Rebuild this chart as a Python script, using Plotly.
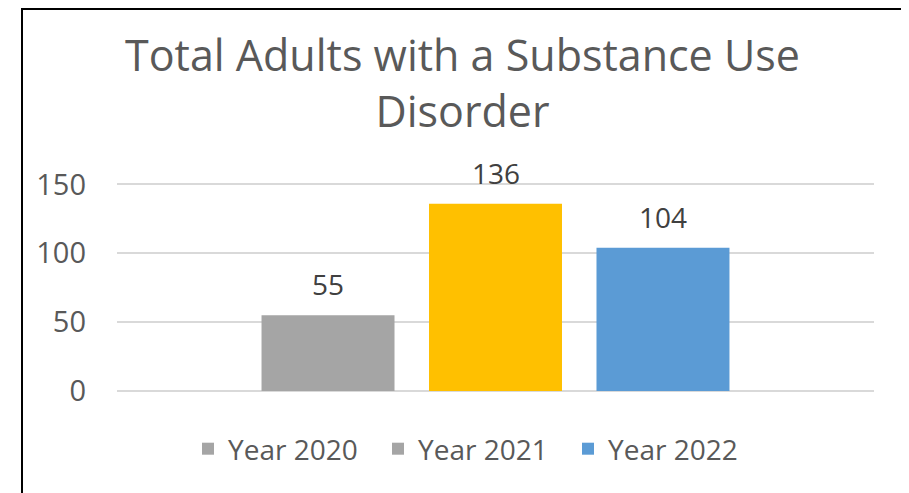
import plotly.graph_objects as go

# ---- data ----
series_names = ["Year 2020", "Year 2021", "Year 2022"]
values = [55, 136, 104]
bar_colors = ["#A5A5A5", "#FFC000", "#5B9BD5"]
legend_colors = ["#A5A5A5", "#A5A5A5", "#5B9BD5"]
y_ticks = [0, 50, 100, 150]
title_text = "Total Adults with a Substance Use<br>Disorder"

FONT = "Open Sans"
W, H = 901, 485
L, R, T, B = 109, 35, 175, 102
pw, ph = W - L - R, H - T - B

fig = go.Figure()
for i, (name, val) in enumerate(zip(series_names, values)):
    same = bar_colors[i] == legend_colors[i]
    fig.add_trace(go.Bar(
        x=[name], y=[val], name=name,
        marker=dict(color=bar_colors[i], line=dict(width=0)),
        showlegend=same, legendrank=i + 1, legendgroup=name,
        hoverinfo="x+y",
    ))
    if not same:
        # legend swatch as it appears in the source chart
        fig.add_trace(go.Bar(
            x=[None], y=[None], name=name,
            marker=dict(color=legend_colors[i], line=dict(width=0)),
            showlegend=True, legendrank=i + 1, legendgroup=name,
            hoverinfo="skip",
        ))

for name, val in zip(series_names, values):
    fig.add_annotation(
        x=name, y=val, xref="x", yref="y", text=str(val),
        showarrow=False, yanchor="bottom", yshift=10,
        font=dict(family=FONT, size=28, color="#404040"),
    )

# chart border
fig.add_shape(
    type="rect", xref="paper", yref="paper",
    x0=(14 - L) / pw, x1=(895.5 - L) / pw,
    y0=(H - B - 560) / ph, y1=(H - B - 1) / ph,
    line=dict(color="black", width=2), fillcolor="rgba(0,0,0,0)", layer="above",
)

fig.update_layout(
    width=W, height=H,
    margin=dict(l=L, r=R, t=T, b=B, pad=0),
    paper_bgcolor="white", plot_bgcolor="white",
    barmode="overlay", bargap=0.206,
    title=dict(
        text=title_text, x=454.5 / W, xanchor="center",
        y=1 - 63 / H, yanchor="top", yref="container",
        font=dict(family=FONT, size=43, color="#595959"),
    ),
    xaxis=dict(
        type="category", range=[-1.26, 3.26], showticklabels=False,
        showgrid=False, zeroline=False, showline=False, ticks="",
    ),
    yaxis=dict(
        range=[0, 151], tickvals=y_ticks, ticktext=[str(v) for v in y_ticks],
        showgrid=True, gridcolor="#D9D9D9", gridwidth=1.5,
        zeroline=True, zerolinecolor="#D9D9D9", zerolinewidth=1.5,
        showline=False, ticks="", ticklabelstandoff=30,
        tickfont=dict(family=FONT, size=29, color="#595959"),
    ),
    legend=dict(
        orientation="h", x=(465 - L) / pw, xanchor="center",
        y=(H - B - 441) / ph, yanchor="middle",
        entrywidth=145,
        font=dict(family=FONT, size=28, color="#595959"),
        traceorder="normal", itemclick=False, itemdoubleclick=False,
        bgcolor="rgba(0,0,0,0)",
    ),
    showlegend=True,
)

fig.write_html("out.html")
